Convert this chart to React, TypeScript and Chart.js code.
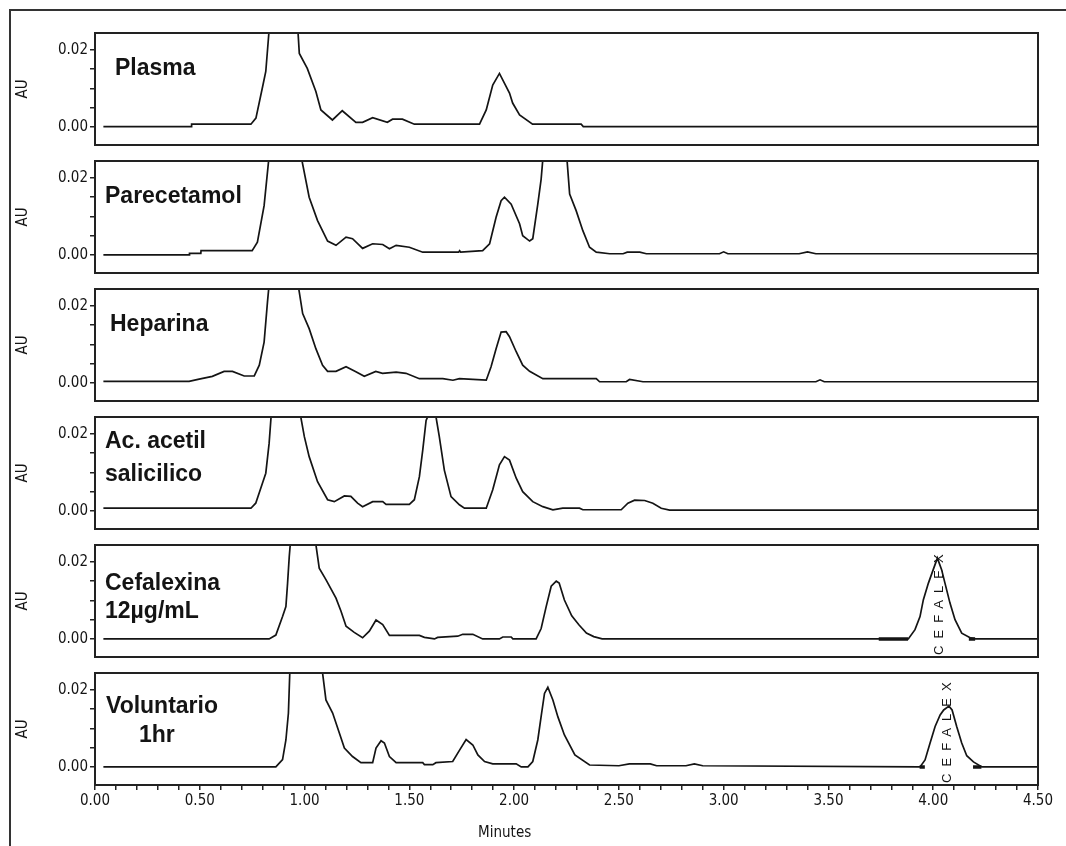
import React, { useEffect, useRef } from "react";
import { Chart, registerables } from "chart.js";

Chart.register(...registerables);

// ---------- data ----------
const xTickLabels = ["0.00", "0.50", "1.00", "1.50", "2.00", "2.50", "3.00", "3.50", "4.00", "4.50"];
const yTickValues = [0, 0.005, 0.01, 0.015, 0.02];
const yTickLabels = ["0.00", "", "", "", "0.02"];
const xAxisTitle = "Minutes";
const yAxisTitle = "AU";

const plasma: [number, number][] = [
  [0.04, 0.0001], [0.46, 0.0001], [0.461, 0.0007], [0.744, 0.0007], [0.768, 0.0023], [0.8, 0.0105],
  [0.815, 0.0144], [0.835, 0.028], [0.9, 0.06], [0.965, 0.028], [0.975, 0.0191], [1.013, 0.0152],
  [1.054, 0.0092], [1.078, 0.0044], [1.133, 0.0018], [1.18, 0.0042], [1.245, 0.0012], [1.277, 0.0012],
  [1.325, 0.0024], [1.395, 0.0012], [1.42, 0.002], [1.467, 0.002], [1.524, 0.0007], [1.835, 0.0007],
  [1.867, 0.0044], [1.898, 0.0109], [1.93, 0.0139], [1.978, 0.0088], [1.993, 0.0062], [2.026, 0.0031],
  [2.088, 0.0007], [2.32, 0.0007], [2.33, 0.0001], [4.5, 0.0001],
];

const parecetamol: [number, number][] = [
  [0.04, 0], [0.45, 0], [0.451, 0.0004], [0.505, 0.0004], [0.506, 0.0011], [0.75, 0.0011],
  [0.775, 0.0033], [0.807, 0.0128], [0.835, 0.028], [0.9, 0.06], [0.975, 0.028], [1.022, 0.015],
  [1.062, 0.0089], [1.11, 0.0036], [1.15, 0.0025], [1.198, 0.0046], [1.229, 0.0042], [1.277, 0.0017],
  [1.325, 0.0029], [1.373, 0.0027], [1.405, 0.0016], [1.437, 0.0025], [1.5, 0.002], [1.564, 0.0007],
  [1.735, 0.0007], [1.74, 0.0011], [1.745, 0.0007], [1.85, 0.0011], [1.883, 0.0029], [1.914, 0.0098],
  [1.938, 0.0141], [1.954, 0.015], [1.986, 0.0132], [2.026, 0.0081], [2.041, 0.005], [2.074, 0.0036],
  [2.089, 0.0042], [2.113, 0.0132], [2.129, 0.0197], [2.145, 0.03], [2.2, 0.055], [2.245, 0.03],
  [2.265, 0.0158], [2.296, 0.0115], [2.328, 0.0063], [2.36, 0.002], [2.392, 0.0007], [2.456, 0.0003],
  [2.52, 0.0003], [2.54, 0.0007], [2.6, 0.0007], [2.631, 0.0003], [2.98, 0.0003], [3.0, 0.0008],
  [3.02, 0.0003], [3.36, 0.0003], [3.4, 0.0008], [3.44, 0.0003], [4.5, 0.0003],
];

const heparina: [number, number][] = [
  [0.04, 0.0004], [0.449, 0.0004], [0.497, 0.001], [0.56, 0.0017], [0.616, 0.003], [0.656, 0.003],
  [0.712, 0.0018], [0.76, 0.0018], [0.784, 0.0046], [0.807, 0.0106], [0.823, 0.021], [0.835, 0.028],
  [0.9, 0.06], [0.965, 0.027], [0.991, 0.018], [1.022, 0.0141], [1.054, 0.0089], [1.086, 0.0046],
  [1.11, 0.003], [1.15, 0.003], [1.198, 0.0042], [1.245, 0.0029], [1.285, 0.0017], [1.34, 0.003],
  [1.372, 0.0025], [1.437, 0.0028], [1.484, 0.0025], [1.548, 0.0011], [1.66, 0.0011], [1.708, 0.0007],
  [1.739, 0.0011], [1.867, 0.0007], [1.89, 0.0042], [1.914, 0.0089], [1.938, 0.0132], [1.962, 0.0133],
  [1.978, 0.012], [2.01, 0.0081], [2.041, 0.0046], [2.074, 0.003], [2.137, 0.0011], [2.392, 0.0011],
  [2.408, 0.0003], [2.535, 0.0003], [2.551, 0.0009], [2.615, 0.0003], [3.44, 0.0003], [3.46, 0.0008],
  [3.48, 0.0003], [4.5, 0.0003],
];

const acAcetil: [number, number][] = [
  [0.04, 0.0007], [0.744, 0.0007], [0.767, 0.002], [0.799, 0.0072], [0.815, 0.0098], [0.831, 0.0176],
  [0.845, 0.028], [0.9, 0.06], [0.97, 0.028], [0.999, 0.0193], [1.022, 0.0141], [1.062, 0.0076],
  [1.11, 0.0029], [1.142, 0.0024], [1.19, 0.0039], [1.221, 0.0038], [1.253, 0.002], [1.277, 0.0011],
  [1.325, 0.0024], [1.373, 0.0024], [1.389, 0.0017], [1.5, 0.0017], [1.524, 0.0029], [1.548, 0.0089],
  [1.564, 0.0158], [1.58, 0.0235], [1.6, 0.026], [1.62, 0.0255], [1.627, 0.0245], [1.643, 0.0193],
  [1.667, 0.0106], [1.699, 0.0037], [1.739, 0.0016], [1.763, 0.0007], [1.867, 0.0007], [1.898, 0.0055],
  [1.93, 0.012], [1.954, 0.0141], [1.978, 0.0132], [2.01, 0.0085], [2.041, 0.005], [2.089, 0.0024],
  [2.137, 0.0011], [2.185, 0.0003], [2.232, 0.0007], [2.312, 0.0007], [2.328, 0.0003], [2.511, 0.0003],
  [2.543, 0.002], [2.575, 0.0028], [2.623, 0.0027], [2.662, 0.002], [2.702, 0.0007], [2.742, 0.0002],
  [4.5, 0.0002],
];

const cefalexina: [number, number][] = [
  [0.04, 0], [0.831, 0], [0.863, 0.001], [0.895, 0.0058], [0.911, 0.0084], [0.919, 0.0145],
  [0.927, 0.0214], [0.94, 0.03], [0.99, 0.07], [1.045, 0.028], [1.07, 0.0184], [1.102, 0.0154],
  [1.15, 0.0106], [1.174, 0.0072], [1.198, 0.0033], [1.237, 0.0017], [1.277, 0.0003], [1.309, 0.002],
  [1.341, 0.0049], [1.373, 0.0037], [1.405, 0.0009], [1.548, 0.0009], [1.572, 0.0004], [1.62, 0],
  [1.635, 0.0004], [1.731, 0.0007], [1.755, 0.0012], [1.803, 0.0012], [1.85, 0], [1.93, 0],
  [1.946, 0.0005], [1.986, 0.0005], [1.994, 0], [2.105, 0], [2.129, 0.0027], [2.153, 0.0084],
  [2.177, 0.0137], [2.201, 0.015], [2.215, 0.0145], [2.24, 0.0101], [2.275, 0.006], [2.31, 0.0036],
  [2.345, 0.0015], [2.38, 0.0006], [2.42, 0], [3.881, 0], [3.913, 0.0024], [3.937, 0.0058],
  [3.953, 0.0102], [3.977, 0.0145], [4.0, 0.018], [4.02, 0.021], [4.04, 0.018], [4.056, 0.0145],
  [4.08, 0.0093], [4.104, 0.005], [4.136, 0.0015], [4.176, 0.0003], [4.2, 0], [4.5, 0],
];

const voluntario: [number, number][] = [
  [0.04, 0], [0.863, 0], [0.895, 0.0019], [0.911, 0.007], [0.923, 0.014], [0.933, 0.03],
  [1.0, 0.07], [1.08, 0.027], [1.102, 0.0174], [1.134, 0.014], [1.166, 0.0088], [1.19, 0.0049],
  [1.229, 0.0027], [1.269, 0.0011], [1.325, 0.0011], [1.341, 0.0049], [1.365, 0.0068], [1.381, 0.0062],
  [1.405, 0.0027], [1.437, 0.0011], [1.564, 0.0011], [1.572, 0.0006], [1.612, 0.0006], [1.627, 0.0011],
  [1.707, 0.0014], [1.739, 0.0043], [1.771, 0.0071], [1.803, 0.0057], [1.827, 0.0031], [1.859, 0.0014],
  [1.898, 0.0008], [2.01, 0.0008], [2.034, 0], [2.066, 0], [2.089, 0.0014], [2.113, 0.007],
  [2.129, 0.0131], [2.145, 0.0191], [2.161, 0.0207], [2.185, 0.0174], [2.209, 0.013], [2.24, 0.0083],
  [2.29, 0.0031], [2.36, 0.0005], [2.5, 0.0003], [2.55, 0.0008], [2.65, 0.0008], [2.68, 0.0003],
  [2.82, 0.0003], [2.86, 0.0008], [2.9, 0.0003], [3.937, 0], [3.961, 0.0018], [3.985, 0.0062],
  [4.009, 0.0105], [4.033, 0.0135], [4.05, 0.0148], [4.075, 0.0158], [4.09, 0.0148], [4.112, 0.0105],
  [4.136, 0.0062], [4.16, 0.0029], [4.192, 0.0013], [4.232, 0], [4.5, 0],
];

// integration baseline marks (null = gap)
const cefalexinaMarks: [number, number | null][] = [[3.74, 0], [3.88, 0], [3.9, null], [4.17, 0], [4.2, 0]];
const voluntarioMarks: [number, number | null][] = [[3.935, 0], [3.96, 0], [3.97, null], [4.19, 0], [4.23, 0]];

const panelTraces = [plasma, parecetamol, heparina, acAcetil, cefalexina, voluntario];
const panelMarks = [[], [], [], [], cefalexinaMarks, voluntarioMarks];
const panelTitles = [
  ["Plasma"],
  ["Parecetamol"],
  ["Heparina"],
  ["Ac. acetil", "salicilico"],
  ["Cefalexina", "12µg/mL"],
  ["Voluntario", "1hr"],
];
const peakNames = ["", "", "", "", "CEFALEX", "CEFALEX"];
const peakTimes = [0, 0, 0, 0, 4.03, 4.07];

// ---------- layout / style ----------
const panelTops = [33, 161, 289, 417, 545, 673];
const PANEL_H = 112;
const PAD = 20;
const X_AXIS_H = 28;
const PAGE_W = 1066;
const PAGE_H = 846;
const AXIS_W = 95;
const RIGHT_PAD = 28;
const titleOffsets = [
  [[20, 42]],
  [[10, 42]],
  [[15, 42]],
  [[10, 31], [10, 64]],
  [[10, 45], [10, 73]],
  [[11, 40], [44, 69]],
];
const NARROW = '"Liberation Sans Narrow", "DejaVu Sans Condensed", "Liberation Sans", Arial, sans-serif';
const SANS = '"Liberation Sans", Arial, sans-serif';
const INK = "#141414";

const decorPlugin = {
  id: "panelDecor",
  afterDatasetsDraw(chart: any, _args: any, opts: any) {
    const { ctx, chartArea: a, scales } = chart;
    ctx.save();
    // frame
    ctx.strokeStyle = "#222";
    ctx.lineWidth = 2;
    ctx.strokeRect(a.left, a.top, a.right - a.left, a.bottom - a.top);
    // panel title
    ctx.fillStyle = INK;
    ctx.font = `bold 23px ${SANS}`;
    ctx.textBaseline = "alphabetic";
    ctx.textAlign = "left";
    (opts.titles || []).forEach((t: string, i: number) => {
      const [dx, dy] = opts.offsets[i];
      ctx.fillText(t, a.left + dx, a.top + dy);
    });
    // peak name (rotated)
    if (opts.peakName) {
      const px = scales.x.getPixelForValue(opts.peakTime);
      const py = scales.y.getPixelForValue(0) + 16;
      ctx.save();
      ctx.translate(px, py);
      ctx.rotate(-Math.PI / 2);
      ctx.font = `13px ${SANS}`;
      (ctx as any).letterSpacing = "7px";
      ctx.textBaseline = "middle";
      ctx.textAlign = "left";
      ctx.fillText(opts.peakName, 0, 0);
      ctx.restore();
    }
    // x axis title
    if (opts.xTitle) {
      ctx.font = `15px ${NARROW}`;
      ctx.textAlign = "center";
      ctx.textBaseline = "middle";
      ctx.fillText(opts.xTitle, scales.x.getPixelForValue(1.955), a.bottom + 48);
    }
    ctx.restore();
  },
};

function Panel({ idx }: { idx: number }) {
  const ref = useRef<HTMLCanvasElement | null>(null);
  const isLast = idx === panelTraces.length - 1;
  const top = panelTops[idx] - PAD;
  const height = isLast ? PAGE_H - top : PANEL_H + 2 * PAD;

  useEffect(() => {
    if (!ref.current) return;
    const datasets: any[] = [
      {
        data: panelTraces[idx].map(([x, y]) => ({ x, y })),
        borderColor: INK,
        borderWidth: 1.7,
        pointRadius: 0,
        tension: 0,
        fill: false,
      },
    ];
    if (panelMarks[idx].length) {
      datasets.push({
        data: (panelMarks[idx] as [number, number | null][]).map(([x, y]) => ({ x, y })),
        borderColor: INK,
        borderWidth: 3.5,
        pointRadius: 0,
        tension: 0,
        fill: false,
        spanGaps: false,
      });
    }
    const chart = new Chart(ref.current, {
      type: "line",
      data: { datasets },
      plugins: [decorPlugin as any],
      options: {
        animation: false,
        responsive: false,
        events: [],
        layout: {
          padding: { top: PAD, bottom: isLast ? height - PAD - PANEL_H - X_AXIS_H : PAD, left: 0, right: RIGHT_PAD },
        },
        plugins: {
          legend: { display: false },
          tooltip: { enabled: false },
          panelDecor: {
            titles: panelTitles[idx],
            offsets: titleOffsets[idx],
            peakName: peakNames[idx],
            peakTime: peakTimes[idx],
            xTitle: isLast ? xAxisTitle : "",
          },
        } as any,
        scales: {
          x: {
            type: "linear",
            min: 0,
            max: 4.5,
            display: isLast,
            border: { display: false },
            grid: { display: true, drawOnChartArea: false, drawTicks: true, tickLength: 5, color: "#222", lineWidth: 1.5 },
            ticks: {
              stepSize: 0.1,
              autoSkip: false,
              maxRotation: 0,
              minRotation: 0,
              padding: 2,
              color: INK,
              font: { family: NARROW, size: 15 },
              callback: (v: any) => {
                const k = Math.round(Number(v) / 0.5);
                return Math.abs(Number(v) - k * 0.5) < 1e-6 ? xTickLabels[k] : "";
              },
            },
            afterFit: (s: any) => {
              if (isLast) s.height = X_AXIS_H;
            },
          },
          y: {
            type: "linear",
            min: -0.0047,
            max: 0.0244,
            border: { display: false },
            grid: { display: true, drawOnChartArea: false, drawTicks: true, tickLength: 5, color: "#222", lineWidth: 1.5 },
            afterBuildTicks: (s: any) => {
              s.ticks = yTickValues.map((value) => ({ value }));
            },
            ticks: {
              padding: 2,
              color: INK,
              font: { family: NARROW, size: 15 },
              callback: (v: any) => {
                const i = yTickValues.findIndex((t) => Math.abs(t - Number(v)) < 1e-9);
                return i >= 0 ? yTickLabels[i] : "";
              },
            },
            title: {
              display: true,
              text: yAxisTitle,
              color: INK,
              font: { family: NARROW, size: 15 },
              padding: { top: 14, bottom: 0 },
            },
            afterFit: (s: any) => {
              s.width = AXIS_W;
            },
          },
        },
      } as any,
    });
    return () => chart.destroy();
  }, [idx]);

  return (
    <canvas
      ref={ref}
      width={PAGE_W}
      height={height}
      style={{ position: "absolute", left: 0, top, width: PAGE_W, height }}
    />
  );
}

export default function App() {
  return (
    <div
      style={{
        position: "absolute",
        left: 0,
        top: 0,
        width: PAGE_W,
        height: PAGE_H,
        background: "#fff",
        overflow: "hidden",
      }}
    >
      <div
        style={{
          position: "absolute",
          left: 9,
          top: 9,
          width: PAGE_W,
          height: PAGE_H,
          borderLeft: "2px solid #333",
          borderTop: "2px solid #333",
        }}
      />
      {panelTraces.map((_, i) => (
        <Panel key={i} idx={i} />
      ))}
    </div>
  );
}
